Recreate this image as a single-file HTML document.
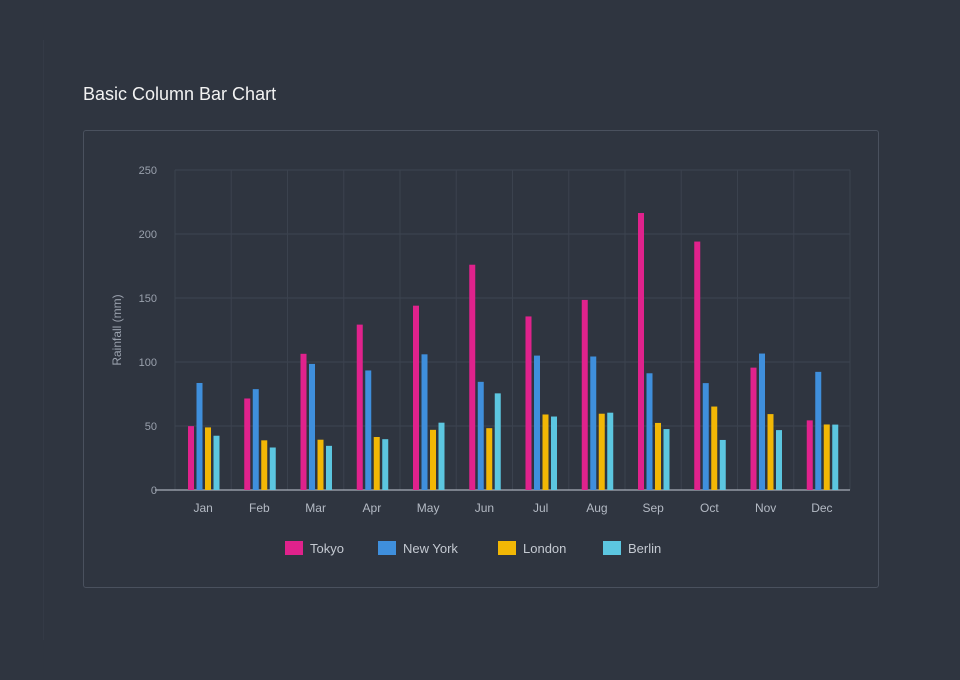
<!DOCTYPE html>
<html><head><meta charset="utf-8"><style>
body{margin:0;width:960px;height:680px;background:#2f3540;font-family:"Liberation Sans",sans-serif;overflow:hidden;position:relative}
.title{position:absolute;left:83px;top:84px;color:#f2f2f2;font-size:18px}
.card{position:absolute;left:83px;top:130px;width:796px;height:458px;border:1px solid #4a515e;border-radius:3px;box-sizing:border-box}
.side{position:absolute;left:43px;top:40px;width:1px;height:600px;background:#343a46}
svg{position:absolute;left:0;top:0}
</style></head><body>
<div class="side"></div>
<div class="title">Basic Column Bar Chart</div>
<div class="card"></div>
<svg id="chart" width="960" height="680"></svg>
<script>
const categories=['Jan','Feb','Mar','Apr','May','Jun','Jul','Aug','Sep','Oct','Nov','Dec'];
const seriesNames=['Tokyo','New York','London','Berlin'];
const tokyo=[49.9,71.5,106.4,129.2,144.0,176.0,135.6,148.5,216.4,194.1,95.6,54.4];
const newYork=[83.6,78.8,98.5,93.4,106.0,84.5,105.0,104.3,91.2,83.5,106.6,92.3];
const london=[48.9,38.8,39.3,41.4,47.0,48.3,59.0,59.6,52.4,65.2,59.3,51.2];
const berlin=[42.4,33.2,34.5,39.7,52.6,75.5,57.4,60.4,47.6,39.1,46.8,51.1];
const yTicks=[0,50,100,150,200,250];
const colors=['#e0228c','#3f8fdc','#f2b705','#5cc6e0'];
const series=[tokyo,newYork,london,berlin];
const svg=document.getElementById('chart');const NS='http://www.w3.org/2000/svg';
const L=175,R=850,T=170,B=490,yMax=250;
const y=v=>B-(v/yMax)*(B-T);
const cw=(R-L)/categories.length;
const x=i=>L+i*cw;
function mk(t,a){const e=document.createElementNS(NS,t);for(const k in a)e.setAttribute(k,a[k]);svg.appendChild(e);return e;}
yTicks.forEach(t=>{
  const g=mk('line',{x1:L,x2:R,y1:y(t),y2:y(t),stroke:'#3e4552','stroke-width':1});
  
  
  const tx=mk('text',{x:157,y:y(t)+4,fill:'#9aa1ad','font-size':11,'text-anchor':'end'});tx.textContent=t;
  
  
});
for(let i=0;i<=categories.length;i++){
  const g=mk('line',{x1:x(i),x2:x(i),y1:T,y2:B,stroke:'#3b424e','stroke-width':1});
  
  
}
const ax=mk('line',{x1:L-20,x2:R,y1:B,y2:B,stroke:'#a8aeb8','stroke-width':1.2});


const yt=mk('text',{x:0,y:0,fill:'#9aa1ad','font-size':12,'text-anchor':'middle',transform:'translate(121,330) rotate(-90)'});yt.textContent='Rainfall (mm)';


categories.forEach((c,i)=>{
  const tx=mk('text',{x:x(i)+cw/2,y:512,fill:'#b4bac4','font-size':12,'text-anchor':'middle'});tx.textContent=c;
  
  
  series.forEach((s,j)=>{
    const bx=x(i)+13+j*8.5;
    const r=mk('rect',{x:bx,y:y(s[i]),width:6,height:B-y(s[i]),fill:colors[j]});
    
    
  });
});
const lx=[285,378,498,603];
seriesNames.forEach((n,j)=>{
  const r=mk('rect',{x:lx[j],y:541,width:18,height:14,fill:colors[j]});
  
  
  const t=mk('text',{x:lx[j]+25,y:553,fill:'#c4c9d1','font-size':13});t.textContent=n;
  
  
});
</script>
</body></html>
